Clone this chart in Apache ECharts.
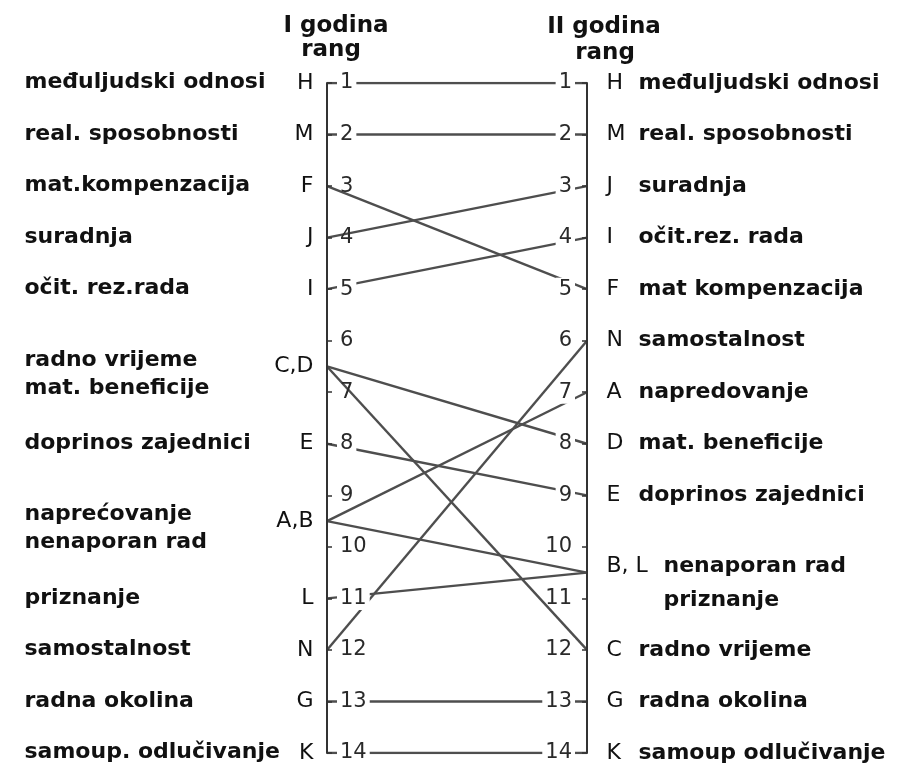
<!DOCTYPE html>
<html>
<head>
<meta charset="utf-8">
<title>Rang faktora - I i II godina</title>
<script src="https://cdn.jsdelivr.net/npm/echarts@6/dist/echarts.min.js"></script>
<style>
html, body { margin: 0; padding: 0; background: #fff; }
#main { width: 919px; height: 776px; }
</style>
</head>
<body>
<div id="main"></div>
<script>
// oznake faktora i njihov rang u I i II godini
var oznake = ['H', 'M', 'F', 'J', 'I', 'C', 'D', 'E', 'A', 'B', 'L', 'N', 'G', 'K'];
var naziviI = ['međuljudski odnosi', 'real. sposobnosti', 'mat.kompenzacija', 'suradnja', 'očit. rez.rada',
    'radno vrijeme', 'mat. beneficije', 'doprinos zajednici', 'naprećovanje', 'nenaporan rad',
    'priznanje', 'samostalnost', 'radna okolina', 'samoup. odlučivanje'];
var naziviII = ['međuljudski odnosi', 'real. sposobnosti', 'mat kompenzacija', 'suradnja', 'očit.rez. rada',
    'radno vrijeme', 'mat. beneficije', 'doprinos zajednici', 'napredovanje', 'nenaporan rad',
    'priznanje', 'samostalnost', 'radna okolina', 'samoup odlučivanje'];
var rangI = [1, 2, 3, 4, 5, 6.5, 6.5, 8, 9.5, 9.5, 11, 12, 13, 14];
var rangII = [1, 2, 5, 3, 4, 12, 8, 9, 7, 10.5, 10.5, 6, 13, 14];
var rangOznake = ['1', '2', '3', '4', '5', '6', '7', '8', '9', '10', '11', '12', '13', '14'];
var naslovI = ['I godina', 'rang'];
var naslovII = ['II godina', 'rang'];

// brojevi koji prekidaju liniju (bijela podloga)
var maskI = [1, 2, 5, 8, 11, 13, 14];
var maskII = [1, 2, 3, 4, 5, 7, 8, 9, 12, 13, 14];

var FONT = '"DejaVu Sans", sans-serif';
var TXT = '#111';
var LINIJA = '#4e4e4e';

// grupiranje faktora s istim rangom (npr. C,D)
function grupe(rang, nazivi) {
    var out = [], idx = {};
    for (var i = 0; i < rang.length; i++) {
        var k = String(rang[i]);
        if (!(k in idx)) {
            idx[k] = out.length;
            out.push({ rang: rang[i], slova: [], imena: [] });
        }
        out[idx[k]].slova.push(oznake[i]);
        out[idx[k]].imena.push(nazivi[i]);
    }
    return out;
}
var gI = grupe(rangI, naziviI);
var gII = grupe(rangII, naziviII);

function yOs(pozicija, mask, margin) {
    return {
        type: 'value',
        position: pozicija,
        inverse: true,
        min: 1,
        max: 14,
        interval: 1,
        z: 3,
        axisLine: { show: true, onZero: false, lineStyle: { color: '#333', width: 2 } },
        axisTick: { show: true, inside: true, length: 5, lineStyle: { color: '#333', width: 1.5 } },
        splitLine: { show: false },
        axisLabel: {
            inside: true,
            margin: margin,
            showMinLabel: true,
            showMaxLabel: true,
            color: '#2a2a2a',
            formatter: function (v) {
                var t = rangOznake[v - 1];
                return mask.indexOf(v) >= 0 ? '{m|' + t + '}' : '{p|' + t + '}';
            },
            rich: {
                m: { fontSize: 21, fontFamily: FONT, color: '#2a2a2a', backgroundColor: '#fff', padding: [1, 3] },
                p: { fontSize: 21, fontFamily: FONT, color: '#2a2a2a', padding: [1, 3] }
            }
        }
    };
}

var series = [];
// linije od ranga u I godini do ranga u II godini
for (var i = 0; i < oznake.length; i++) {
    series.push({
        name: oznake[i],
        type: 'line',
        data: [[0, rangI[i]], [1, rangII[i]]],
        symbol: 'none',
        silent: true,
        z: 2,
        lineStyle: { color: LINIJA, width: 2.4 }
    });
}

var prazno = { color: 'transparent' };

// lijevo: oznake
series.push({
    type: 'scatter',
    symbolSize: 1,
    itemStyle: prazno,
    silent: true,
    data: gI.map(function (g) { return { name: g.slova.join(','), value: [0, g.rang] }; }),
    label: {
        show: true, position: 'left', distance: 13, formatter: '{b}', opacity: 1,
        fontSize: 22, fontFamily: FONT, color: TXT
    }
});
// lijevo: nazivi
series.push({
    type: 'scatter',
    symbolSize: 1,
    itemStyle: prazno,
    silent: true,
    data: gI.map(function (g) {
        return {
            name: g.imena.join('\n'),
            value: [0, g.rang],
            label: { position: [-302, g.imena.length > 1 ? 8 : 0] }
        };
    }),
    label: {
        show: true, formatter: '{b}', align: 'left', verticalAlign: 'middle', opacity: 1,
        fontSize: 22, fontWeight: 'bold', lineHeight: 28, fontFamily: FONT, color: TXT
    }
});
// desno: oznaka + naziv
series.push({
    type: 'scatter',
    symbolSize: 1,
    itemStyle: prazno,
    silent: true,
    data: gII.map(function (g) {
        var t;
        if (g.imena.length > 1) {
            t = g.imena.map(function (n, j) {
                return '{w|' + (j === 0 ? g.slova.join(', ') : ' ') + '}{n|' + n + '}';
            }).join('\n');
        } else {
            t = '{l|' + g.slova[0] + '}{n|' + g.imena[0] + '}';
        }
        return { name: t, value: [1, g.rang], label: { offset: [0, g.imena.length > 1 ? 11 : 0] } };
    }),
    label: {
        show: true, position: 'right', distance: 19, formatter: '{b}', color: TXT, opacity: 1,
        rich: {
            l: { width: 32, fontSize: 22, fontFamily: FONT, color: TXT, lineHeight: 34 },
            w: { width: 57, fontSize: 22, fontFamily: FONT, color: TXT, lineHeight: 34 },
            n: { fontSize: 22, fontWeight: 'bold', fontFamily: FONT, color: TXT, lineHeight: 34 }
        }
    }
});

function naslov(x, y, t) {
    return {
        type: 'text', x: x, y: y, silent: true,
        style: { text: t, fontSize: 23, fontWeight: 'bold', fontFamily: FONT, fill: TXT, align: 'center', verticalAlign: 'middle' }
    };
}

var chart = echarts.init(document.getElementById('main'));
chart.setOption({
    animation: false,
    backgroundColor: '#fff',
    grid: { left: 327, right: 332, top: 83, bottom: 23 },
    xAxis: { type: 'value', min: 0, max: 1, show: false },
    yAxis: [yOs('left', maskI, 10), yOs('right', maskII, 12)],
    graphic: [
        naslov(336, 26, naslovI[0]), naslov(331, 50, naslovI[1]),
        naslov(604, 27, naslovII[0]), naslov(605, 53, naslovII[1])
    ],
    series: series
});
</script>
</body>
</html>
